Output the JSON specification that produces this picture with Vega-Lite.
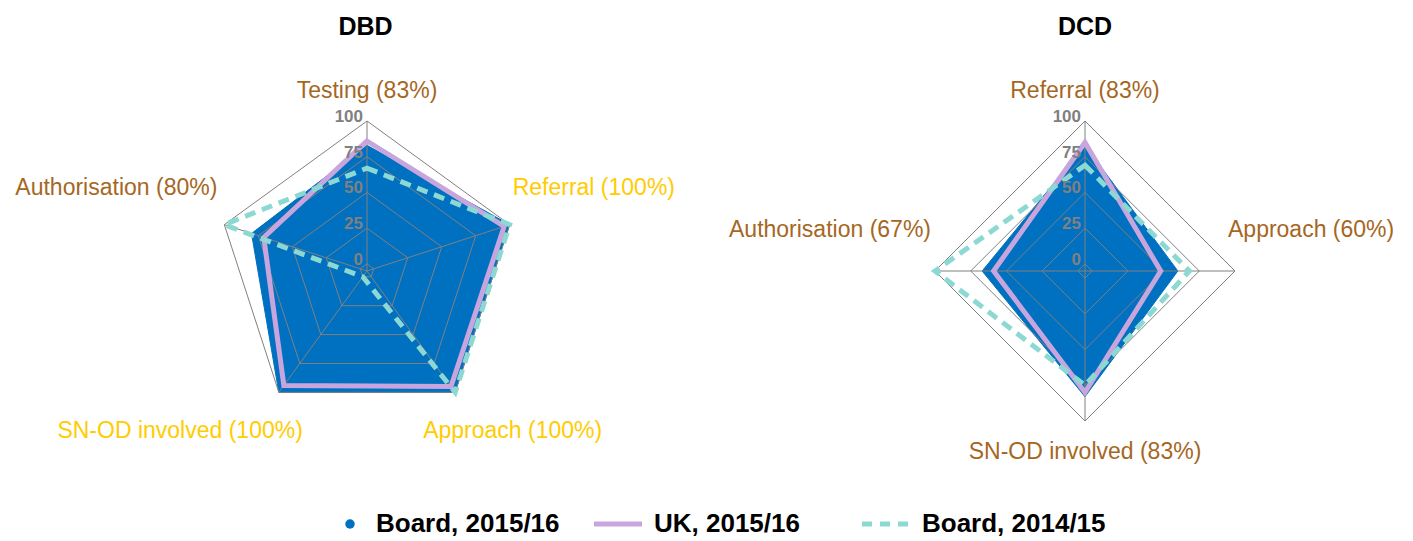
{
  "$schema": "https://vega.github.io/schema/vega-lite/v6.json",
  "padding": {"left": 5, "top": 15, "right": 5, "bottom": 0},
  "spacing": 39,
  "config": {"view": {"stroke": null}, "font": "Liberation Sans"},
  "datasets": {
    "vals": [
      {"panel": "DBD", "series": "Board, 2015/16", "idx": 0, "cat": "Testing", "value": 83},
      {"panel": "DBD", "series": "Board, 2015/16", "idx": 1, "cat": "Referral", "value": 100},
      {"panel": "DBD", "series": "Board, 2015/16", "idx": 2, "cat": "Approach", "value": 100},
      {"panel": "DBD", "series": "Board, 2015/16", "idx": 3, "cat": "SN-OD involved", "value": 100},
      {"panel": "DBD", "series": "Board, 2015/16", "idx": 4, "cat": "Authorisation", "value": 80},
      {"panel": "DBD", "series": "UK, 2015/16", "idx": 0, "cat": "Testing", "value": 86},
      {"panel": "DBD", "series": "UK, 2015/16", "idx": 1, "cat": "Referral", "value": 96},
      {"panel": "DBD", "series": "UK, 2015/16", "idx": 2, "cat": "Approach", "value": 95},
      {"panel": "DBD", "series": "UK, 2015/16", "idx": 3, "cat": "SN-OD involved", "value": 94},
      {"panel": "DBD", "series": "UK, 2015/16", "idx": 4, "cat": "Authorisation", "value": 71},
      {"panel": "DBD", "series": "Board, 2014/15", "idx": 0, "cat": "Testing", "value": 67},
      {"panel": "DBD", "series": "Board, 2014/15", "idx": 1, "cat": "Referral", "value": 100},
      {"panel": "DBD", "series": "Board, 2014/15", "idx": 2, "cat": "Approach", "value": 100},
      {"panel": "DBD", "series": "Board, 2014/15", "idx": 3, "cat": "SN-OD involved", "value": 0},
      {"panel": "DBD", "series": "Board, 2014/15", "idx": 4, "cat": "Authorisation", "value": 100},
      {"panel": "DCD", "series": "Board, 2015/16", "idx": 0, "cat": "Referral", "value": 83},
      {"panel": "DCD", "series": "Board, 2015/16", "idx": 1, "cat": "Approach", "value": 60},
      {"panel": "DCD", "series": "Board, 2015/16", "idx": 2, "cat": "SN-OD involved", "value": 83},
      {"panel": "DCD", "series": "Board, 2015/16", "idx": 3, "cat": "Authorisation", "value": 67},
      {"panel": "DCD", "series": "UK, 2015/16", "idx": 0, "cat": "Referral", "value": 85},
      {"panel": "DCD", "series": "UK, 2015/16", "idx": 1, "cat": "Approach", "value": 48},
      {"panel": "DCD", "series": "UK, 2015/16", "idx": 2, "cat": "SN-OD involved", "value": 80},
      {"panel": "DCD", "series": "UK, 2015/16", "idx": 3, "cat": "Authorisation", "value": 59},
      {"panel": "DCD", "series": "Board, 2014/15", "idx": 0, "cat": "Referral", "value": 69},
      {"panel": "DCD", "series": "Board, 2014/15", "idx": 1, "cat": "Approach", "value": 68},
      {"panel": "DCD", "series": "Board, 2014/15", "idx": 2, "cat": "SN-OD involved", "value": 75},
      {"panel": "DCD", "series": "Board, 2014/15", "idx": 3, "cat": "Authorisation", "value": 100}
    ],
    "cats": [
      {"panel": "DBD", "idx": 0, "label": "Testing (83%)", "pct": 83, "ring": [0, 25, 50, 75, 100]},
      {"panel": "DBD", "idx": 1, "label": "Referral (100%)", "pct": 100, "ring": [0, 25, 50, 75, 100]},
      {"panel": "DBD", "idx": 2, "label": "Approach (100%)", "pct": 100, "ring": [0, 25, 50, 75, 100]},
      {"panel": "DBD", "idx": 3, "label": "SN-OD involved (100%)", "pct": 100, "ring": [0, 25, 50, 75, 100]},
      {"panel": "DBD", "idx": 4, "label": "Authorisation (80%)", "pct": 80, "ring": [0, 25, 50, 75, 100]},
      {"panel": "DCD", "idx": 0, "label": "Referral (83%)", "pct": 83, "ring": [0, 25, 50, 75, 100]},
      {"panel": "DCD", "idx": 1, "label": "Approach (60%)", "pct": 60, "ring": [0, 25, 50, 75, 100]},
      {"panel": "DCD", "idx": 2, "label": "SN-OD involved (83%)", "pct": 83, "ring": [0, 25, 50, 75, 100]},
      {"panel": "DCD", "idx": 3, "label": "Authorisation (67%)", "pct": 67, "ring": [0, 25, 50, 75, 100]}
    ],
    "levels": [{"level": 0}, {"level": 25}, {"level": 50}, {"level": 75}, {"level": 100}],
    "legend": [
      {"series": "Board, 2015/16", "idx": 0},
      {"series": "UK, 2015/16", "idx": 1},
      {"series": "Board, 2014/15", "idx": 2}
    ]
  },
  "vconcat": [
    {
      "spacing": 10,
      "hconcat": [
        {
          "width": 695, "height": 410,
          "title": {"text": "DBD", "fontSize": 25, "fontWeight": "bold", "color": "#000000", "anchor": "middle", "dx": 13, "offset": 20, "font": "Liberation Sans"},
          "layer": [
            {
              "data": {"name": "vals"},
              "transform": [
                {"filter": "datum.panel == 'DBD' && datum.series == 'Board, 2015/16'"},
                {"joinaggregate": [{"op": "count", "as": "n"}]},
                {"calculate": "2*PI*datum.idx/datum.n", "as": "ang"},
                {"calculate": "(datum.value+5)*sin(datum.ang)", "as": "px"},
                {"calculate": "(datum.value+5)*cos(datum.ang)", "as": "py"}
              ],
              "mark": {"type": "line", "interpolate": "linear-closed", "fill": "#0070C0", "stroke": "#0070C0", "strokeWidth": 1},
              "encoding": {
                "x": {"field": "px", "type": "quantitative", "scale": {"domain": [-253.4, 233.1]}, "axis": null},
                "y": {"field": "py", "type": "quantitative", "scale": {"domain": [-139.3, 147.7]}, "axis": null},
                "order": {"field": "idx"}
              }
            },
            {
              "data": {"name": "cats"},
              "transform": [
                {"filter": "datum.panel == 'DBD'"},
                {"joinaggregate": [{"op": "count", "as": "n"}]},
                {"calculate": "2*PI*datum.idx/datum.n", "as": "ang"},
                {"flatten": ["ring"], "as": ["rr"]},
                {"calculate": "(datum.rr+5)*sin(datum.ang)", "as": "px"},
                {"calculate": "(datum.rr+5)*cos(datum.ang)", "as": "py"}
              ],
              "mark": {"type": "line", "interpolate": "linear-closed", "stroke": "#808080", "strokeWidth": 1},
              "encoding": {
                "x": {"field": "px", "type": "quantitative", "scale": {"domain": [-253.4, 233.1]}, "axis": null},
                "y": {"field": "py", "type": "quantitative", "scale": {"domain": [-139.3, 147.7]}, "axis": null},
                "order": {"field": "idx"},
                "detail": {"field": "rr", "type": "nominal"}
              }
            },
            {
              "data": {"name": "cats"},
              "transform": [
                {"filter": "datum.panel == 'DBD'"},
                {"joinaggregate": [{"op": "count", "as": "n"}]},
                {"calculate": "2*PI*datum.idx/datum.n", "as": "ang"},
                {"calculate": "105*sin(datum.ang)", "as": "px"},
                {"calculate": "105*cos(datum.ang)", "as": "py"}
              ],
              "mark": {"type": "rule", "stroke": "#808080", "strokeWidth": 1},
              "encoding": {
                "x": {"field": "px", "type": "quantitative", "scale": {"domain": [-253.4, 233.1]}, "axis": null},
                "y": {"field": "py", "type": "quantitative", "scale": {"domain": [-139.3, 147.7]}, "axis": null},
                "x2": {"datum": 0},
                "y2": {"datum": 0}
              }
            },
            {
              "data": {"name": "vals"},
              "transform": [
                {"filter": "datum.panel == 'DBD' && datum.series == 'UK, 2015/16'"},
                {"joinaggregate": [{"op": "count", "as": "n"}]},
                {"calculate": "2*PI*datum.idx/datum.n", "as": "ang"},
                {"calculate": "(datum.value+5)*sin(datum.ang)", "as": "px"},
                {"calculate": "(datum.value+5)*cos(datum.ang)", "as": "py"}
              ],
              "mark": {"type": "line", "interpolate": "linear-closed", "stroke": "#C8A5DC", "strokeWidth": 5},
              "encoding": {
                "x": {"field": "px", "type": "quantitative", "scale": {"domain": [-253.4, 233.1]}, "axis": null},
                "y": {"field": "py", "type": "quantitative", "scale": {"domain": [-139.3, 147.7]}, "axis": null},
                "order": {"field": "idx"}
              }
            },
            {
              "data": {"name": "vals"},
              "transform": [
                {"filter": "datum.panel == 'DBD' && datum.series == 'Board, 2014/15'"},
                {"joinaggregate": [{"op": "count", "as": "n"}]},
                {"calculate": "2*PI*datum.idx/datum.n", "as": "ang"},
                {"calculate": "(datum.value+5)*sin(datum.ang)", "as": "px"},
                {"calculate": "(datum.value+5)*cos(datum.ang)", "as": "py"}
              ],
              "mark": {"type": "line", "interpolate": "linear-closed", "stroke": "#8CD9D4", "strokeWidth": 5, "strokeDash": [11, 7]},
              "encoding": {
                "x": {"field": "px", "type": "quantitative", "scale": {"domain": [-253.4, 233.1]}, "axis": null},
                "y": {"field": "py", "type": "quantitative", "scale": {"domain": [-139.3, 147.7]}, "axis": null},
                "order": {"field": "idx"}
              }
            },
            {
              "data": {"name": "levels"},
              "transform": [{"calculate": "datum.level+5", "as": "py"}],
              "mark": {"type": "text", "align": "right", "baseline": "middle", "dx": -4, "dy": -4, "fontSize": 17, "fontWeight": "bold", "color": "#808080"},
              "encoding": {
                "x": {"datum": 0, "type": "quantitative", "scale": {"domain": [-253.4, 233.1]}, "axis": null},
                "y": {"field": "py", "type": "quantitative", "scale": {"domain": [-139.3, 147.7]}, "axis": null},
                "text": {"field": "level"}
              }
            },
            {
              "data": {"name": "cats"},
              "transform": [
                {"filter": "datum.panel == 'DBD'"},
                {"joinaggregate": [{"op": "count", "as": "n"}]},
                {"calculate": "2*PI*datum.idx/datum.n", "as": "ang"},
                {"calculate": "sin(datum.ang)", "as": "s"},
                {"calculate": "cos(datum.ang)", "as": "c"},
                {"calculate": "105*datum.s", "as": "px"},
                {"calculate": "105*datum.c", "as": "py"}
              ],
              "mark": {
                "type": "text", "fontSize": 23, "baseline": "middle",
                "align": {"expr": "abs(datum.s) < 0.05 ? 'center' : (datum.s > 0 ? 'left' : 'right')"},
                "dx": {"expr": "abs(datum.s) < 0.05 ? 0 : (datum.s > 0 ? (datum.c > -0.05 ? (datum.c > 0.1 ? 3 : -7) : -32) : (datum.c > -0.05 ? (datum.c > 0.1 ? -7 : -4) : 24))"},
                "dy": {"expr": "datum.c > 0.95 ? -30 : (datum.c < -0.95 ? 31 : (datum.c > -0.05 ? (datum.c > 0.1 ? -37 : -41) : 39))"}
              },
              "encoding": {
                "x": {"field": "px", "type": "quantitative", "scale": {"domain": [-253.4, 233.1]}, "axis": null},
                "y": {"field": "py", "type": "quantitative", "scale": {"domain": [-139.3, 147.7]}, "axis": null},
                "text": {"field": "label"},
                "color": {"condition": {"test": "datum.pct == 100", "value": "#FFCC00"}, "value": "#A5671F"}
              }
            }
          ]
        },
        {
          "width": 698, "height": 410,
          "title": {"text": "DCD", "fontSize": 25, "fontWeight": "bold", "color": "#000000", "anchor": "middle", "dx": 26, "offset": 20, "font": "Liberation Sans"},
          "layer": [
            {
              "data": {"name": "vals"},
              "transform": [
                {"filter": "datum.panel == 'DCD' && datum.series == 'Board, 2015/16'"},
                {"joinaggregate": [{"op": "count", "as": "n"}]},
                {"calculate": "2*PI*datum.idx/datum.n", "as": "ang"},
                {"calculate": "(datum.value+5)*sin(datum.ang)", "as": "px"},
                {"calculate": "(datum.value+5)*cos(datum.ang)", "as": "py"}
              ],
              "mark": {"type": "line", "interpolate": "linear-closed", "fill": "#0070C0", "stroke": "#0070C0", "strokeWidth": 1},
              "encoding": {
                "x": {"field": "px", "type": "quantitative", "scale": {"domain": [-262.5, 226.1]}, "axis": null},
                "y": {"field": "py", "type": "quantitative", "scale": {"domain": [-139.3, 147.7]}, "axis": null},
                "order": {"field": "idx"}
              }
            },
            {
              "data": {"name": "cats"},
              "transform": [
                {"filter": "datum.panel == 'DCD'"},
                {"joinaggregate": [{"op": "count", "as": "n"}]},
                {"calculate": "2*PI*datum.idx/datum.n", "as": "ang"},
                {"flatten": ["ring"], "as": ["rr"]},
                {"calculate": "(datum.rr+5)*sin(datum.ang)", "as": "px"},
                {"calculate": "(datum.rr+5)*cos(datum.ang)", "as": "py"}
              ],
              "mark": {"type": "line", "interpolate": "linear-closed", "stroke": "#808080", "strokeWidth": 1},
              "encoding": {
                "x": {"field": "px", "type": "quantitative", "scale": {"domain": [-262.5, 226.1]}, "axis": null},
                "y": {"field": "py", "type": "quantitative", "scale": {"domain": [-139.3, 147.7]}, "axis": null},
                "order": {"field": "idx"},
                "detail": {"field": "rr", "type": "nominal"}
              }
            },
            {
              "data": {"name": "cats"},
              "transform": [
                {"filter": "datum.panel == 'DCD'"},
                {"joinaggregate": [{"op": "count", "as": "n"}]},
                {"calculate": "2*PI*datum.idx/datum.n", "as": "ang"},
                {"calculate": "105*sin(datum.ang)", "as": "px"},
                {"calculate": "105*cos(datum.ang)", "as": "py"}
              ],
              "mark": {"type": "rule", "stroke": "#808080", "strokeWidth": 1},
              "encoding": {
                "x": {"field": "px", "type": "quantitative", "scale": {"domain": [-262.5, 226.1]}, "axis": null},
                "y": {"field": "py", "type": "quantitative", "scale": {"domain": [-139.3, 147.7]}, "axis": null},
                "x2": {"datum": 0},
                "y2": {"datum": 0}
              }
            },
            {
              "data": {"name": "vals"},
              "transform": [
                {"filter": "datum.panel == 'DCD' && datum.series == 'UK, 2015/16'"},
                {"joinaggregate": [{"op": "count", "as": "n"}]},
                {"calculate": "2*PI*datum.idx/datum.n", "as": "ang"},
                {"calculate": "(datum.value+5)*sin(datum.ang)", "as": "px"},
                {"calculate": "(datum.value+5)*cos(datum.ang)", "as": "py"}
              ],
              "mark": {"type": "line", "interpolate": "linear-closed", "stroke": "#C8A5DC", "strokeWidth": 5},
              "encoding": {
                "x": {"field": "px", "type": "quantitative", "scale": {"domain": [-262.5, 226.1]}, "axis": null},
                "y": {"field": "py", "type": "quantitative", "scale": {"domain": [-139.3, 147.7]}, "axis": null},
                "order": {"field": "idx"}
              }
            },
            {
              "data": {"name": "vals"},
              "transform": [
                {"filter": "datum.panel == 'DCD' && datum.series == 'Board, 2014/15'"},
                {"joinaggregate": [{"op": "count", "as": "n"}]},
                {"calculate": "2*PI*datum.idx/datum.n", "as": "ang"},
                {"calculate": "(datum.value+5)*sin(datum.ang)", "as": "px"},
                {"calculate": "(datum.value+5)*cos(datum.ang)", "as": "py"}
              ],
              "mark": {"type": "line", "interpolate": "linear-closed", "stroke": "#8CD9D4", "strokeWidth": 5, "strokeDash": [11, 7]},
              "encoding": {
                "x": {"field": "px", "type": "quantitative", "scale": {"domain": [-262.5, 226.1]}, "axis": null},
                "y": {"field": "py", "type": "quantitative", "scale": {"domain": [-139.3, 147.7]}, "axis": null},
                "order": {"field": "idx"}
              }
            },
            {
              "data": {"name": "levels"},
              "transform": [{"calculate": "datum.level+5", "as": "py"}],
              "mark": {"type": "text", "align": "right", "baseline": "middle", "dx": -4, "dy": -4, "fontSize": 17, "fontWeight": "bold", "color": "#808080"},
              "encoding": {
                "x": {"datum": 0, "type": "quantitative", "scale": {"domain": [-262.5, 226.1]}, "axis": null},
                "y": {"field": "py", "type": "quantitative", "scale": {"domain": [-139.3, 147.7]}, "axis": null},
                "text": {"field": "level"}
              }
            },
            {
              "data": {"name": "cats"},
              "transform": [
                {"filter": "datum.panel == 'DCD'"},
                {"joinaggregate": [{"op": "count", "as": "n"}]},
                {"calculate": "2*PI*datum.idx/datum.n", "as": "ang"},
                {"calculate": "sin(datum.ang)", "as": "s"},
                {"calculate": "cos(datum.ang)", "as": "c"},
                {"calculate": "105*datum.s", "as": "px"},
                {"calculate": "105*datum.c", "as": "py"}
              ],
              "mark": {
                "type": "text", "fontSize": 23, "baseline": "middle",
                "align": {"expr": "abs(datum.s) < 0.05 ? 'center' : (datum.s > 0 ? 'left' : 'right')"},
                "dx": {"expr": "abs(datum.s) < 0.05 ? 0 : (datum.s > 0 ? (datum.c > -0.05 ? (datum.c > 0.1 ? 3 : -7) : -32) : (datum.c > -0.05 ? (datum.c > 0.1 ? -7 : -4) : 24))"},
                "dy": {"expr": "datum.c > 0.95 ? -30 : (datum.c < -0.95 ? 31 : (datum.c > -0.05 ? (datum.c > 0.1 ? -37 : -41) : 39))"}
              },
              "encoding": {
                "x": {"field": "px", "type": "quantitative", "scale": {"domain": [-262.5, 226.1]}, "axis": null},
                "y": {"field": "py", "type": "quantitative", "scale": {"domain": [-139.3, 147.7]}, "axis": null},
                "text": {"field": "label"},
                "color": {"condition": {"test": "datum.pct == 100", "value": "#FFCC00"}, "value": "#A5671F"}
              }
            }
          ]
        }
      ]
    },
    {
      "width": 1403, "height": 30,
      "data": {"name": "legend"},
      "encoding": {
        "x": {"field": "idx", "type": "quantitative", "scale": {"domain": [-1.2873, 3.9478]}, "axis": null}
      },
      "layer": [
        {
          "transform": [{"filter": "datum.idx == 0"}],
          "mark": {"type": "point", "shape": "circle", "filled": true, "size": 90, "color": "#0070C0", "opacity": 1}
        },
        {
          "transform": [{"filter": "datum.idx == 1"}],
          "mark": {"type": "point", "shape": "stroke", "filled": false, "size": 2304, "stroke": "#C8A5DC", "strokeWidth": 5, "opacity": 1}
        },
        {
          "transform": [{"filter": "datum.idx == 2"}],
          "mark": {"type": "point", "shape": "stroke", "filled": false, "size": 2304, "stroke": "#8CD9D4", "strokeWidth": 5, "strokeDash": [10, 8], "opacity": 1}
        },
        {
          "mark": {"type": "text", "align": "left", "baseline": "middle", "fontSize": 26, "fontWeight": "bold", "color": "#000000", "dx": {"expr": "datum.idx == 0 ? 26 : 36"}},
          "encoding": {"text": {"field": "series"}}
        }
      ]
    }
  ]
}
